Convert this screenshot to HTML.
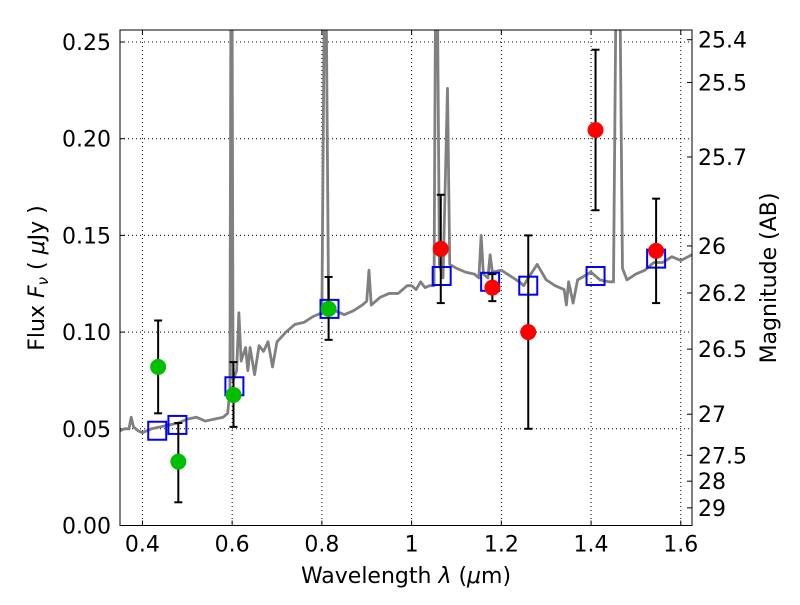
<!DOCTYPE html>
<html><head><meta charset="utf-8"><style>
body{margin:0;background:#fff;}
svg text{font-family:"DejaVu Sans","Liberation Sans",sans-serif;}
</style></head><body>
<svg id="chart" width="800" height="600" xmlns="http://www.w3.org/2000/svg"></svg>
<script>
const specWave=[0.35,0.36,0.37,0.375,0.38,0.39,0.40,0.42,0.44,0.46,0.48,0.50,0.52,0.54,0.56,0.58,0.59,0.595,0.597,0.600,0.602,0.61,0.615,0.62,0.63,0.635,0.64,0.65,0.66,0.67,0.68,0.69,0.70,0.72,0.74,0.76,0.78,0.80,0.805,0.81,0.815,0.83,0.85,0.87,0.89,0.90,0.905,0.91,0.93,0.95,0.97,0.99,1.00,1.01,1.02,1.03,1.04,1.05,1.053,1.058,1.062,1.07,1.08,1.085,1.10,1.12,1.14,1.15,1.155,1.16,1.17,1.175,1.18,1.20,1.22,1.24,1.25,1.26,1.28,1.30,1.32,1.34,1.345,1.35,1.36,1.37,1.40,1.42,1.44,1.45,1.455,1.465,1.47,1.48,1.50,1.52,1.54,1.56,1.58,1.60,1.625];
const specFlux=[0.049,0.050,0.050,0.056,0.051,0.049,0.048,0.050,0.051,0.052,0.053,0.055,0.056,0.054,0.055,0.056,0.058,0.070,0.26,0.26,0.075,0.080,0.110,0.085,0.092,0.080,0.092,0.078,0.093,0.090,0.095,0.082,0.095,0.100,0.104,0.105,0.108,0.110,0.26,0.26,0.113,0.111,0.109,0.111,0.114,0.116,0.132,0.114,0.118,0.120,0.120,0.124,0.124,0.122,0.126,0.123,0.124,0.124,0.26,0.26,0.135,0.128,0.226,0.135,0.133,0.131,0.130,0.128,0.150,0.130,0.128,0.140,0.131,0.132,0.129,0.126,0.124,0.128,0.135,0.127,0.124,0.122,0.114,0.126,0.115,0.127,0.131,0.127,0.126,0.126,0.26,0.26,0.133,0.127,0.130,0.132,0.136,0.136,0.139,0.137,0.140];
const greenWave=[0.435,0.48,0.603,0.815];
const greenFlux=[0.082,0.033,0.0675,0.112];
const greenHi=[0.106,0.053,0.0845,0.1285];
const greenLo=[0.058,0.012,0.051,0.096];
const redWave=[1.065,1.18,1.26,1.41,1.545];
const redFlux=[0.143,0.123,0.100,0.2045,0.142];
const redHi=[0.171,0.130,0.150,0.246,0.169];
const redLo=[0.115,0.116,0.050,0.163,0.115];
const boxWave=[0.433,0.478,0.605,0.817,1.067,1.175,1.26,1.41,1.545];
const boxFlux=[0.049,0.052,0.072,0.112,0.129,0.126,0.124,0.129,0.138];
const xTicks=[0.4,0.6,0.8,1.0,1.2,1.4,1.6];
const xTickLabels=["0.4","0.6","0.8","1","1.2","1.4","1.6"];
const yTicks=[0,0.05,0.10,0.15,0.20,0.25];
const yTickLabels=["0.00","0.05","0.10","0.15","0.20","0.25"];
const magTicks=[25.4,25.5,25.7,26,26.2,26.5,27,27.5,28,29];
const magTickLabels=["25.4","25.5","25.7","26","26.2","26.5","27","27.5","28","29"];

const L=120,R=692,T=30,B=525.5,XMIN=0.35,XMAX=1.625,YMIN=0,YMAX=0.2562;
const sx=v=>L+(v-XMIN)/(XMAX-XMIN)*(R-L);
const sy=v=>B-(v-YMIN)/(YMAX-YMIN)*(B-T);
const svg=document.getElementById('chart');
const NS='http://www.w3.org/2000/svg';
function mk(tag,attrs,parent){const e=document.createElementNS(NS,tag);for(const k in attrs)e.setAttribute(k,attrs[k]);(parent||svg).appendChild(e);return e;}

const clip=mk('clipPath',{id:'pc'});mk('rect',{x:L,y:T,width:R-L,height:B-T},clip);

xTicks.forEach((t,i)=>{
 const g=mk('line',{x1:sx(t),x2:sx(t),y1:T,y2:B,stroke:'#000','stroke-width':1,'stroke-dasharray':'1,3'});
 
 
 const tk=mk('line',{x1:sx(t),x2:sx(t),y1:B,y2:B-5,stroke:'#000'});
 
 
 mk('line',{x1:sx(t),x2:sx(t),y1:T,y2:T+5,stroke:'#000'});
 const tx=mk('text',{x:sx(t),y:B+26,'text-anchor':'middle','font-size':22});tx.textContent=xTickLabels[i];
 
 
});
yTicks.forEach((t,i)=>{
 const g=mk('line',{x1:L,x2:R,y1:sy(t),y2:sy(t),stroke:'#000','stroke-width':1,'stroke-dasharray':'1,3'});
 
 
 mk('line',{x1:L,x2:L+5,y1:sy(t),y2:sy(t),stroke:'#000'});
 const tx=mk('text',{x:L-9,y:sy(t)+8,'text-anchor':'end','font-size':22});tx.textContent=yTickLabels[i];
 
 
});
magTicks.forEach((m,i)=>{
 const f=Math.pow(10,(23.9-m)/2.5);const y=sy(f);
 const tk=mk('line',{x1:R,x2:R-5,y1:y,y2:y,stroke:'#000'});
 
 
 const tx=mk('text',{x:R+6,y:y+8,'font-size':22});tx.textContent=magTickLabels[i];
 
 
});

const sp=mk('polyline',{points:specWave.map((w,i)=>sx(w)+','+sy(specFlux[i])).join(' '),fill:'none',stroke:'#808080','stroke-width':2.8,'clip-path':'url(#pc)','stroke-linejoin':'round'});



boxWave.forEach((w,i)=>{
 const r=mk('rect',{x:sx(w)-9,y:sy(boxFlux[i])-9,width:18,height:18,fill:'none',stroke:'#0000ff','stroke-width':2});
 
 
});
function pts(wave,flux,hi,lo,color,name){
 wave.forEach((w,i)=>{
  const x=sx(w);
  const e=mk('g',{stroke:'#000','stroke-width':2});
  
  
  mk('line',{x1:x,x2:x,y1:sy(hi[i]),y2:sy(lo[i])},e);
  mk('line',{x1:x-4,x2:x+4,y1:sy(hi[i]),y2:sy(hi[i])},e);
  mk('line',{x1:x-4,x2:x+4,y1:sy(lo[i]),y2:sy(lo[i])},e);
  const c=mk('circle',{cx:x,cy:sy(flux[i]),r:8,fill:color});
  
  
 });
}
pts(greenWave,greenFlux,greenHi,greenLo,'#00bf00','optical');
pts(redWave,redFlux,redHi,redLo,'#ff0000','nir');

const fr=mk('rect',{x:L,y:T,width:R-L,height:B-T,fill:'none',stroke:'#000','stroke-width':1});


</script>
<svg width="800" height="600" style="position:absolute;left:0;top:0;pointer-events:none" xmlns="http://www.w3.org/2000/svg">
<text x="406" y="583" text-anchor="middle" font-size="22" font-family="DejaVu Sans, sans-serif">Wavelength  <tspan font-style="italic">λ</tspan> (<tspan font-style="italic">μ</tspan>m)</text>
<text transform="translate(44,278) rotate(-90)" text-anchor="middle" font-size="22" font-family="DejaVu Sans, sans-serif">Flux  <tspan font-style="italic">F</tspan><tspan font-style="italic" font-size="15" dy="4">ν</tspan><tspan dy="-4">  ( </tspan><tspan font-style="italic">μ</tspan>Jy )</text>
<text transform="translate(776,278) rotate(-90)" text-anchor="middle" font-size="22" font-family="DejaVu Sans, sans-serif">Magnitude (AB)</text>
</svg>
</body></html>
